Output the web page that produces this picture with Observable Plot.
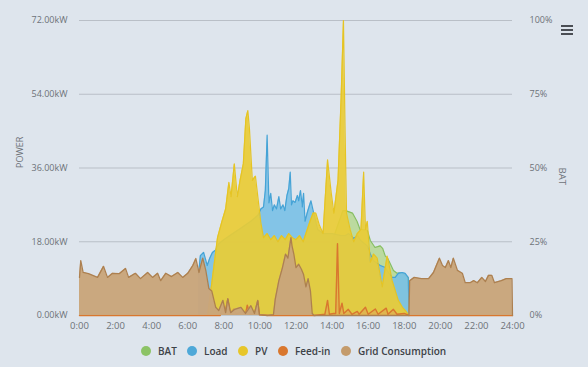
<!DOCTYPE html>
<html>
<head>
<meta charset="utf-8">
<script src="https://cdn.jsdelivr.net/npm/d3@7"></script>
<script src="https://cdn.jsdelivr.net/npm/@observablehq/plot@0.6"></script>
<style>
  html, body { margin: 0; padding: 0; background: #dee5ed; }
  body { width: 588px; height: 367px; position: relative; overflow: hidden; font-family: "Open Sans", sans-serif; }
  #chart { position: absolute; left: 0; top: 0; }
  .legend { position: absolute; top: 344px; left: 0; width: 588px; height: 18px; }
  .item { position: absolute; top: 0; display: flex; align-items: center; font-size: 10px; font-weight: 600; color: #3d4247; white-space: nowrap; }
  .dot { width: 10px; height: 10px; border-radius: 50%; margin-right: 7px; }
  .menu { position: absolute; left: 561px; top: 25px; width: 12px; }
  .menu div { height: 2px; background: #4a4e54; margin-bottom: 2px; }
</style>
</head>
<body>
<div id="chart"></div>
<div class="legend" id="legend"></div>
<div class="menu"><div></div><div></div><div></div></div>
<script>
// ---- data (hours of day, kW) ----
const powerTicks = [0, 18, 36, 54, 72];
const hourTicks = [0, 2, 4, 6, 8, 10, 12, 14, 16, 18, 20, 22, 24];
const seriesNames = ["BAT", "Load", "PV", "Feed-in", "Grid Consumption"];
const seriesColors = ["#8cc366", "#4ea8d8", "#e7c62a", "#d9772e", "#c49b6c"];

const gridT = [0,0.07,0.2,0.5,1.0,1.33,1.55,1.83,2.2,2.55,2.72,3.1,3.38,3.78,4.05,4.33,4.5,4.78,5.1,5.45,5.72,6.0,6.28,6.45,6.62,6.83,7.0,7.17,7.33,7.55,7.72,7.95,8.1,8.22,8.38,8.6,8.95,9.2,9.5,9.7,9.88,9.97,10.4,10.75,10.85,11.05,11.25,11.42,11.55,11.72,11.78,11.88,12.0,12.15,12.3,12.42,12.55,12.67,12.8,12.9,13.0,18.26,18.3,18.55,18.95,19.35,19.62,19.78,19.95,20.12,20.28,20.45,20.58,20.72,20.95,21.22,21.38,21.65,21.85,22.05,22.3,22.5,22.67,22.85,23.0,23.38,23.65,23.97,24];
const gridV = [9.3,13.4,10.5,10.2,9.3,12,9.3,10.3,10.2,11.5,9.3,10.3,9,10.5,9.3,10.3,8.5,10.3,9.5,10.5,9.3,10.3,12.2,13.9,10.5,14,11,6.6,6,2,1.2,3.7,0.7,4.1,0.7,1.5,2,0.5,2.4,0.5,3.7,0.2,0,0.2,4,8.5,11.7,15,14,19,17,15,11.7,12.5,11.3,10,7,9,6,0.5,0,0,8.5,9.3,9,9,10.5,12.2,14,12.2,11.7,13.4,11.7,14,11,10.3,8,8,8.5,8,9.3,8.3,9.8,9.8,8,8.5,9,9,0];

const loadT = [6.6,6.7,6.88,7.08,7.22,7.37,7.55,7.72,8.0,8.5,9.0,9.5,9.9,10.05,10.2,10.3,10.4,10.5,10.6,10.7,10.8,10.92,11.05,11.15,11.28,11.38,11.5,11.6,11.68,11.75,11.83,11.95,12.08,12.15,12.25,12.35,12.42,12.5,12.65,12.83,12.95,13.2,13.5,14.0,14.5,14.75,14.92,15.2,15.42,15.58,15.95,16.12,16.28,16.67,16.95,17.12,17.33,17.5,17.67,17.88,18.05,18.22,18.27];
const loadV = [10,14.6,15.4,12.2,14,15.4,16,17.5,18.5,20,21.5,23,24.5,26,26.5,30.5,44,27.5,29.8,25.6,27,26,29,26,27,25.6,29.3,31,35,27,28,27.6,29.3,28,30.5,26.5,29.8,23,25.5,28,25.6,21,20,20,19.5,19.5,20,18.8,19.5,18.3,17,15,13.4,12.2,11.7,10.5,9.3,9.3,10.3,10.5,10.3,9.3,0];

const pvT = [7.1,7.25,7.45,7.65,7.9,8.1,8.28,8.4,8.58,8.75,8.9,9.08,9.22,9.33,9.42,9.58,9.75,9.92,10.05,10.2,10.4,10.6,10.8,11.0,11.2,11.4,11.6,11.8,12.0,12.2,12.4,12.55,12.78,12.95,13.1,13.3,13.5,13.75,13.95,14.1,14.33,14.5,14.63,14.72,14.8,15.0,15.2,15.4,15.6,15.75,15.85,15.95,16.12,16.3,16.5,16.78,17.05,17.13,17.33,17.67,17.9,18.1,18.27];
const pvV = [0,5,12,19,23,26,32.5,29,37,29,33,37,48,50,45.6,33,34,27.6,22.7,19,20,18.5,19.5,18,19.5,18.5,20,19,18.5,19.5,18,20,23,25,25,22,20,38,30,25,33,53,72,45,25,21,18,20,21,35,21,23,13,15,14,7,14.5,13,8.5,3.7,2,1,0];

const batT = [13.95,14.0,14.6,14.75,15.13,15.38,15.55,15.95,16.12,16.38,16.67,16.8,16.95,17.08,17.22,17.4,17.6,17.8,18.0,18.22,18.27];
const batV = [0,18,25.6,25.6,25,23,21,20.8,18.3,16.6,17,16.4,14.5,14,12.7,11,10.3,10.5,10,9.2,0];

const feedT = [0,7.8,7.95,8.05,8.22,8.35,8.55,8.7,9.0,9.2,9.3,9.45,9.7,9.88,9.97,10.5,13.0,13.6,13.75,13.85,14.08,14.2,14.3,14.4,14.55,14.65,14.9,15.1,15.4,15.5,15.85,16.0,16.4,16.55,17.0,17.1,17.4,17.6,18.0,18.27,24];
const feedV = [0,0,1.7,0.3,4,0.5,1.5,0.3,1,0.3,2.5,0.3,0.5,3.5,0.2,0,0,0.3,3.7,0.3,0.5,0.5,17.5,0.5,3,0.5,1.5,0.3,1,0.3,2,0.3,1.6,0.3,1.8,0.3,1.5,0.3,0.5,0,0];

const zip = (T, V) => T.map((t, i) => ({t, v: V[i]}));
const grid = zip(gridT, gridV), load = zip(loadT, loadV), pv = zip(pvT, pvV), bat = zip(batT, batV), feed = zip(feedT, feedV);

const axisColor = "#6d7278";
const plot = Plot.plot({
  width: 588,
  height: 338,
  marginLeft: 79,
  marginRight: 76,
  marginTop: 20,
  marginBottom: 23,
  style: {background: "transparent", fontFamily: "Open Sans, sans-serif", fontSize: "9px", overflow: "visible"},
  x: {domain: [0, 24]},
  y: {domain: [0, 72]},
  marks: [
    Plot.gridY(powerTicks, {stroke: "#b9bfc7", strokeOpacity: 1, strokeWidth: 1}),
    Plot.ruleY([0], {stroke: "#c2c8cf"}),
    Plot.axisY({ticks: powerTicks, tickFormat: d => d.toFixed(2) + "kW", tickSize: 0, tickPadding: 12, fill: axisColor, label: null}),
    Plot.axisY({anchor: "right", ticks: powerTicks, tickFormat: d => Math.round(d / 72 * 100) + "%", tickSize: 0, tickPadding: 17, fill: axisColor, label: null, textAnchor: "start"}),
    Plot.axisX({ticks: hourTicks, tickFormat: d => d + ":00", tickSize: 0, tickPadding: 7, fill: axisColor, label: null, fontSize: 9.5}),
    Plot.text(["POWER"], {frameAnchor: "left", dx: -59, rotate: -90, fill: axisColor, fontSize: 9}),
    Plot.text([{x: 24, y: 34}], {x: "x", y: "y", text: () => "BAT", dx: 50, rotate: 90, fill: axisColor, fontSize: 9.5}),
    // BAT
    Plot.areaY(bat, {x: "t", y: "v", fill: "#b5d891", fillOpacity: 0.85}),
    Plot.lineY(bat, {x: "t", y: "v", stroke: "#86be62", strokeWidth: 1.2}),
    // Load
    Plot.areaY(load, {x: "t", y: "v", fill: "#79c0e6", fillOpacity: 0.9}),
    Plot.lineY(load, {x: "t", y: "v", stroke: "#45a3d6", strokeWidth: 1.2}),
    // PV
    Plot.areaY(pv, {x: "t", y: "v", fill: "#e9cc35", fillOpacity: 0.92}),
    Plot.lineY(pv, {x: "t", y: "v", stroke: "#e5c424", strokeWidth: 1.2}),
    // Feed-in
    Plot.areaY(feed, {x: "t", y: "v", fill: "#e0a05a", fillOpacity: 0.5}),
    Plot.lineY(feed, {x: "t", y: "v", stroke: "#d9772e", strokeWidth: 1.4}),
    // Grid Consumption
    Plot.areaY(grid, {x: "t", y: "v", fill: "#c9a57b", fillOpacity: 0.97}),
    Plot.lineY(grid, {x: "t", y: "v", stroke: "#ad8050", strokeWidth: 1.3})
  ]
});
document.getElementById("chart").appendChild(plot);

// legend
const legendX = [141, 187, 238, 278, 341];
const legend = document.getElementById("legend");
seriesNames.forEach((name, i) => {
  const item = document.createElement("div");
  item.className = "item";
  item.style.left = legendX[i] + "px";
  const dot = document.createElement("div");
  dot.className = "dot";
  dot.style.background = seriesColors[i];
  item.appendChild(dot);
  item.appendChild(document.createTextNode(name));
  legend.appendChild(item);
});
</script>
</body>
</html>
